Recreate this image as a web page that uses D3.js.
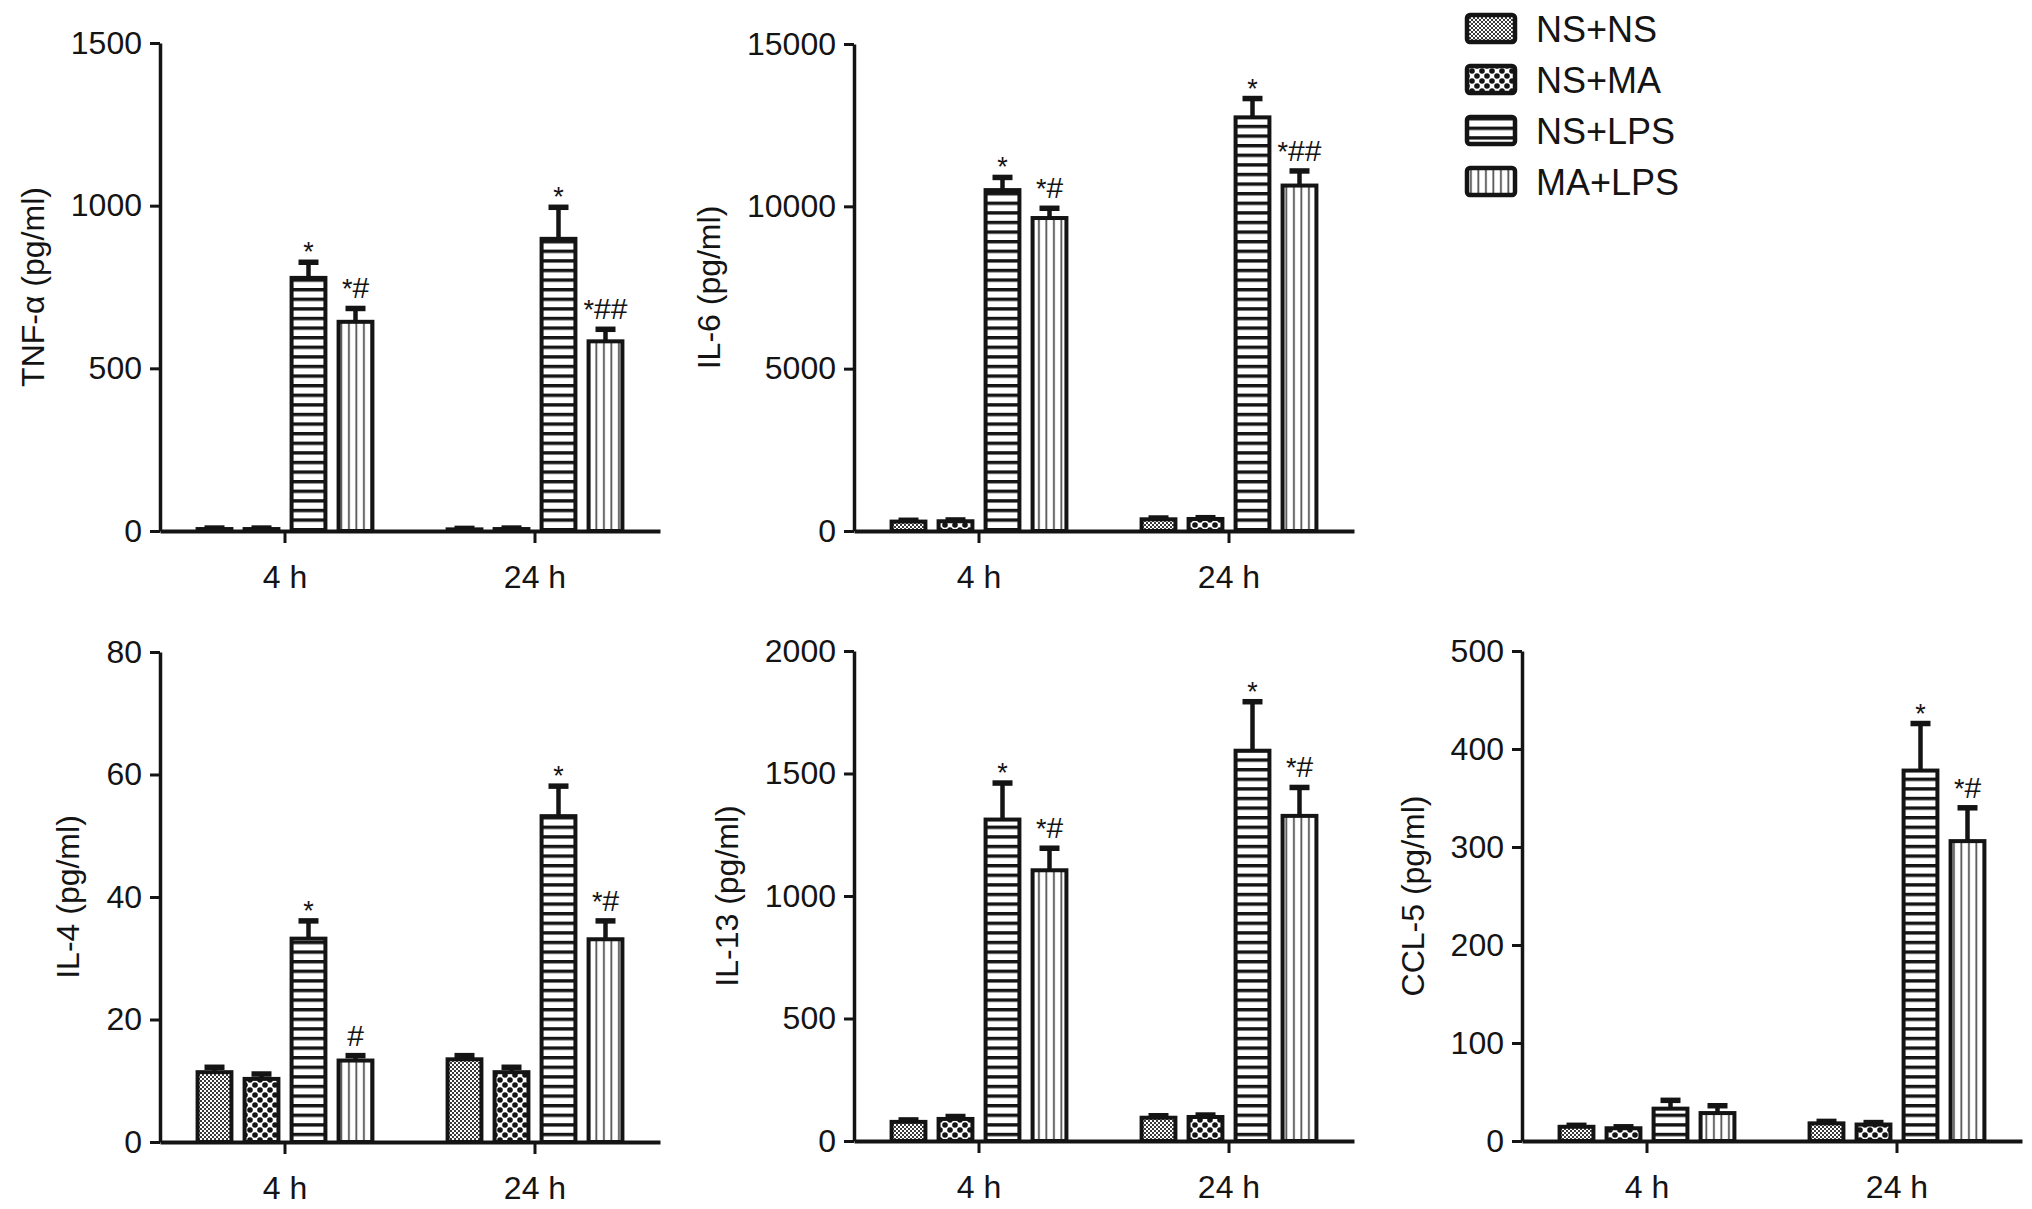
<!DOCTYPE html>
<html>
<head>
<meta charset="utf-8">
<script src="https://cdn.jsdelivr.net/npm/d3@7"></script>
<style>
  body { margin: 0; background: #fff; }
  svg { display: block; font-family: "Liberation Sans", Arial, Helvetica, sans-serif; }
</style>
</head>
<body>
<script>
// ---------------- DATA ----------------
const groups = ["4 h", "24 h"];
const series = ["NS+NS", "NS+MA", "NS+LPS", "MA+LPS"];

const tnfTitle = "TNF-\u03b1 (pg/ml)";
const tnfTicks = [0, 500, 1000, 1500];
const tnfMean = [[6, 6, 778, 643], [5, 6, 898, 583]];
const tnfErr  = [[3, 3, 48, 41], [3, 3, 97, 37]];
const tnfAnn  = [["", "", "*", "*#"], ["", "", "*", "*##"]];

const il6Title = "IL-6 (pg/ml)";
const il6Ticks = [0, 5000, 10000, 15000];
const il6Mean = [[290, 300, 10500, 9640], [360, 370, 12740, 10640]];
const il6Err  = [[40, 40, 390, 300], [40, 40, 580, 450]];
const il6Ann  = [["", "", "*", "*#"], ["", "", "*", "*##"]];

const il4Title = "IL-4 (pg/ml)";
const il4Ticks = [0, 20, 40, 60, 80];
const il4Mean = [[11.4, 10.3, 33.2, 13.3], [13.5, 11.4, 53.2, 33.1]];
const il4Err  = [[0.8, 0.8, 2.9, 0.8], [0.6, 0.8, 4.9, 3.0]];
const il4Ann  = [["", "", "*", "#"], ["", "", "*", "*#"]];

const il13Title = "IL-13 (pg/ml)";
const il13Ticks = [0, 500, 1000, 1500, 2000];
const il13Mean = [[78, 90, 1312, 1105], [95, 98, 1593, 1327]];
const il13Err  = [[8, 10, 149, 90], [8, 8, 200, 116]];
const il13Ann  = [["", "", "*", "*#"], ["", "", "*", "*#"]];

const cclTitle = "CCL-5 (pg/ml)";
const cclTicks = [0, 100, 200, 300, 400, 500];
const cclMean = [[14.5, 13, 33, 28.5], [18, 16.8, 378, 306]];
const cclErr  = [[1.5, 1.5, 8.5, 7.5], [2, 2, 48, 34]];
const cclAnn  = [["", "", "", ""], ["", "", "*", "*#"]];

// ---------------- LAYOUT ----------------
const W = 2032, H = 1209;
const panels = [
  { title: tnfTitle,  ticks: tnfTicks,  mean: tnfMean,  err: tnfErr,  ann: tnfAnn,  ax: 160,  top: 43,  bot: 531 },
  { title: il6Title,  ticks: il6Ticks,  mean: il6Mean,  err: il6Err,  ann: il6Ann,  ax: 854,  top: 44,  bot: 531 },
  { title: il4Title,  ticks: il4Ticks,  mean: il4Mean,  err: il4Err,  ann: il4Ann,  ax: 160,  top: 652, bot: 1142 },
  { title: il13Title, ticks: il13Ticks, mean: il13Mean, err: il13Err, ann: il13Ann, ax: 854,  top: 651, bot: 1141 },
  { title: cclTitle,  ticks: cclTicks,  mean: cclMean,  err: cclErr,  ann: cclAnn,  ax: 1522, top: 651, bot: 1141 }
];

const INK = "#141414";

const svg = d3.select("body").append("svg").attr("width", W).attr("height", H);
svg.append("rect").attr("width", W).attr("height", H).attr("fill", "#fff");

// ---------------- PATTERNS ----------------
const defs = svg.append("defs");
function pat(id, w, h) {
  const p = defs.append("pattern").attr("id", id).attr("patternUnits", "userSpaceOnUse")
    .attr("width", w).attr("height", h);
  p.append("rect").attr("width", w).attr("height", h).attr("fill", "#fff");
  return p;
}
// NS+NS: fine checker (grey texture)
{ const p = pat("p0", 4, 4);
  p.append("rect").attr("x", 0).attr("y", 0).attr("width", 2).attr("height", 2).attr("fill", "#3a3a3a");
  p.append("rect").attr("x", 2).attr("y", 2).attr("width", 2).attr("height", 2).attr("fill", "#3a3a3a"); }
// NS+MA: coarse dotted checker
{ const p = pat("p1", 10, 10);
  [[0,0],[10,0],[0,10],[10,10],[5,5]].forEach(([cx,cy]) =>
    p.append("circle").attr("cx", cx).attr("cy", cy).attr("r", 2.8).attr("fill", INK)); }
// NS+LPS: horizontal stripes
{ const p = pat("p2", 10, 9.6);
  p.append("rect").attr("x", 0).attr("y", 0).attr("width", 10).attr("height", 3.4).attr("fill", INK); }
// MA+LPS: vertical thin stripes
{ const p = pat("p3", 7.5, 10);
  p.append("rect").attr("x", 3).attr("y", 0).attr("width", 1.8).attr("height", 10).attr("fill", "#555"); }

const fillFor = si => `url(#p${si})`;

// ---------------- PANELS ----------------
panels.forEach(p => {
  const g = svg.append("g");
  const y = d3.scaleLinear().domain([0, d3.max(p.ticks)]).range([p.bot, p.top]);
  const x0 = d3.scaleBand().domain(groups).range([p.ax, p.ax + 500]);
  const x1 = d3.scaleBand().domain(series).range([-94, 94]).paddingInner(0.28).paddingOuter(0.14);

  const rows = groups.flatMap((gn, gi) => series.map((s, si) => ({
    g: gn, s, si, v: p.mean[gi][si], e: p.err[gi][si], a: p.ann[gi][si]
  })));
  const cx = d => x0(d.g) + x0.bandwidth() / 2 + x1(d.s) + x1.bandwidth() / 2;

  // error bars
  const eb = g.append("g").attr("stroke", INK).attr("stroke-width", 4.5);
  eb.selectAll("line.v").data(rows).join("line")
    .attr("x1", cx).attr("x2", cx)
    .attr("y1", d => y(d.v)).attr("y2", d => y(d.v + d.e));
  eb.selectAll("line.c").data(rows).join("line")
    .attr("x1", d => cx(d) - 10).attr("x2", d => cx(d) + 10)
    .attr("y1", d => y(d.v + d.e)).attr("y2", d => y(d.v + d.e))
    .attr("stroke-width", 5.5);

  // bars
  g.append("g").selectAll("rect").data(rows).join("rect")
    .attr("x", d => cx(d) - x1.bandwidth() / 2)
    .attr("width", x1.bandwidth())
    .attr("y", d => y(d.v))
    .attr("height", d => y(0) - y(d.v))
    .attr("fill", d => fillFor(d.si))
    .attr("stroke", INK).attr("stroke-width", 4);

  // annotations
  const ann = g.append("g").attr("fill", INK).attr("text-anchor", "middle");
  rows.filter(d => d.a).forEach(d => {
    const capY = y(d.v + d.e);
    const hasHash = d.a.includes("#");
    const t = ann.append("text").attr("x", cx(d)).attr("y", hasHash ? capY - 10 : capY - 1);
    const star = d.a.startsWith("*") ? "*" : "";
    const rest = d.a.replace("*", "");
    if (star) t.append("tspan").attr("font-size", 27).text(star);
    if (rest) t.append("tspan").attr("font-size", 30).text(rest);
  });

  // x axis
  const xa = g.append("g").attr("transform", `translate(0,${p.bot})`)
    .call(d3.axisBottom(x0).tickSize(12).tickSizeOuter(0).tickPadding(22));
  xa.select(".domain").attr("stroke", INK).attr("stroke-width", 4);
  xa.selectAll(".tick line").attr("stroke", INK).attr("stroke-width", 3);
  xa.selectAll("text").attr("font-size", 32).attr("fill", INK)
    .attr("font-family", "Liberation Sans, Arial, sans-serif");

  // y axis
  const ya = g.append("g").attr("transform", `translate(${p.ax},0)`)
    .call(d3.axisLeft(y).tickValues(p.ticks).tickFormat(d3.format("d"))
      .tickSize(10).tickSizeOuter(0).tickPadding(8));
  ya.select(".domain").attr("stroke", INK).attr("stroke-width", 3.5);
  ya.selectAll(".tick line").attr("stroke", INK).attr("stroke-width", 3);
  ya.selectAll("text").attr("font-size", 32).attr("fill", INK)
    .attr("font-family", "Liberation Sans, Arial, sans-serif");

  const bb = ya.node().getBBox();
  const tx = p.ax + bb.x - 27;
  const ty = (p.top + p.bot) / 2;
  g.append("text").attr("transform", `translate(${tx},${ty}) rotate(-90)`)
    .attr("text-anchor", "middle").attr("font-size", 32).attr("fill", INK)
    .text(p.title);
});

// ---------------- LEGEND ----------------
const lg = svg.append("g").attr("transform", "translate(1467,15)");
const li = lg.selectAll("g").data(series).join("g")
  .attr("transform", (d, i) => `translate(0,${i * 51})`);
li.append("rect").attr("width", 48).attr("height", 27).attr("rx", 3)
  .attr("fill", (d, i) => fillFor(i)).attr("stroke", INK).attr("stroke-width", 4.5);
li.append("text").attr("x", 69).attr("y", 14.5).attr("dominant-baseline", "central")
  .attr("font-size", 36).attr("fill", INK).text(d => d);
</script>
</body>
</html>
